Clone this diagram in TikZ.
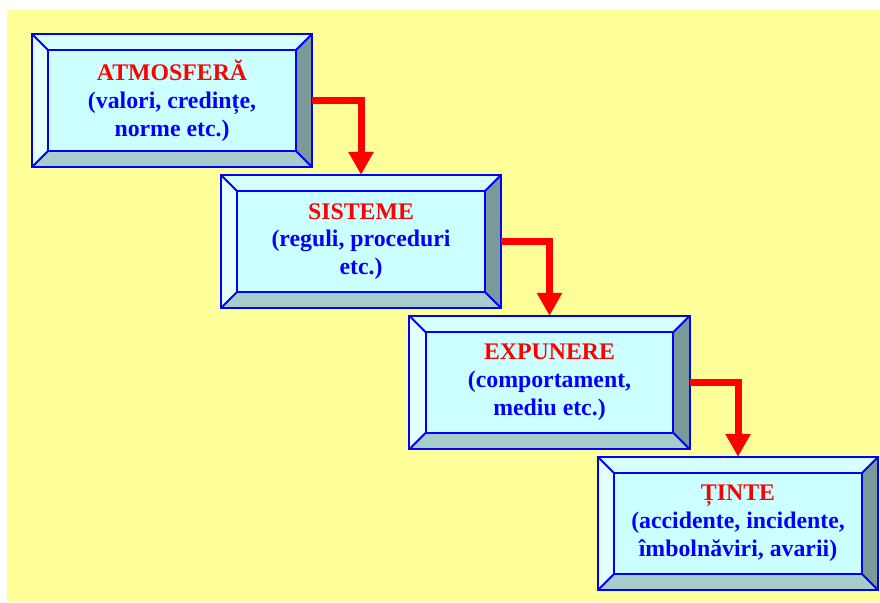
\documentclass[tikz,border=0pt]{standalone}
\usepackage{fontspec}
\setmainfont{Liberation Serif}
\usetikzlibrary{arrows.meta,backgrounds,calc}

\definecolor{paper}{HTML}{FFFF99}
\definecolor{face}{HTML}{CCFFFF}
\definecolor{bevtop}{HTML}{D6FFFF}
\definecolor{bevleft}{HTML}{E3FFFF}
\definecolor{bevright}{HTML}{7A9999}
\definecolor{bevbottom}{HTML}{A6CCCC}
\definecolor{edge}{HTML}{0000FF}
\definecolor{titlered}{HTML}{FF0000}
\definecolor{textblue}{HTML}{0000FF}

\tikzset{
  stage/.style={minimum width=280pt, minimum height=133pt, inner sep=0pt,
    align=center, text=textblue,
    font=\bfseries\fontsize{23.8}{27.8}\selectfont},
  flow/.style={draw=titlered, line width=7pt,
    -{Triangle[width=24pt,length=23pt]}},
  bevelline/.style={draw=edge, line width=2pt, line join=miter},
}

\newcommand{\headline}[1]{\textcolor{titlered}{#1}}

\begin{document}
\begin{tikzpicture}[x=1pt,y=-1pt]
\useasboundingbox (0,0) rectangle (880,602);

% the four stages
\node[stage] (s1) at (172,100.5)
  {\headline{ATMOSFERĂ}\\(valori, credințe,\\norme etc.)};
\node[stage] (s2) at (361,241.5)
  {\headline{SISTEME}\\(reguli, proceduri\\etc.)};
\node[stage] (s3) at (549.5,382.5)
  {\headline{EXPUNERE}\\(comportament,\\mediu etc.)};
\node[stage] (s4) at (738,523.5)
  {\headline{ȚINTE}\\(accidente, incidente,\\îmbolnăviri, avarii)};

% bevelled frames behind the texts
\begin{pgfonlayer}{background}
  \fill[paper] (7,10) rectangle (880,602);
  \foreach \n in {s1,s2,s3,s4}{
    \coordinate (oNW) at (\n.north west);
    \coordinate (oNE) at (\n.north east);
    \coordinate (oSE) at (\n.south east);
    \coordinate (oSW) at (\n.south west);
    \coordinate (iNW) at ($(\n.north west)+(16.5,16.5)$);
    \coordinate (iNE) at ($(\n.north east)+(-16.5,16.5)$);
    \coordinate (iSE) at ($(\n.south east)+(-16.5,-16.5)$);
    \coordinate (iSW) at ($(\n.south west)+(16.5,-16.5)$);
    \fill[face] (iNW) rectangle (iSE);
    \fill[bevtop] (oNW) -- (oNE) -- (iNE) -- (iNW) -- cycle;
    \fill[bevright] (oNE) -- (oSE) -- (iSE) -- (iNE) -- cycle;
    \fill[bevbottom] (oSW) -- (oSE) -- (iSE) -- (iSW) -- cycle;
    \fill[bevleft] (oNW) -- (oSW) -- (iSW) -- (iNW) -- cycle;
    \draw[bevelline] (oNW) rectangle (oSE);
    \draw[bevelline] (iNW) rectangle (iSE);
    \draw[bevelline] (oNW) -- (iNW) (oNE) -- (iNE)
                     (oSE) -- (iSE) (oSW) -- (iSW);
  }
\end{pgfonlayer}

% connectors
\draw[flow] (s1.east) -| (s2.north);
\draw[flow] (s2.east) -| (s3.north);
\draw[flow] (s3.east) -| (s4.north);
\end{tikzpicture}
\end{document}
